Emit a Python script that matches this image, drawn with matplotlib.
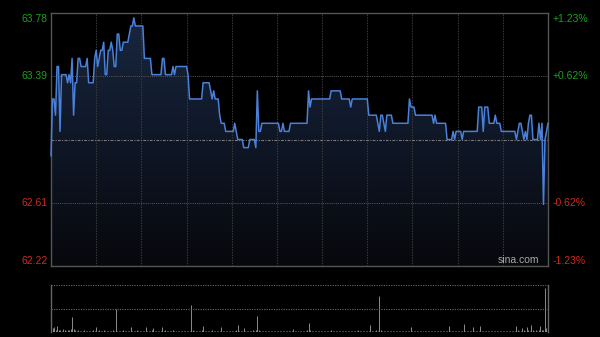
import numpy as np
import matplotlib
matplotlib.use('Agg')
import matplotlib.pyplot as plt
from matplotlib.patches import Polygon
from matplotlib.colors import LinearSegmentedColormap

plt.rcParams['font.family'] = ['Liberation Sans', 'DejaVu Sans']

PREV_CLOSE = 63.00
Y_MIN, Y_MAX = 62.22, 63.78
N_MIN = 330  # 11 half-hour blocks, one point per minute

# intraday price, stored as runs (price, number of minutes at that price)
run_prices = [
    62.90, 63.25, 63.15, 63.45, 63.05, 63.40, 63.35, 63.40, 63.35, 63.50,
    63.15, 63.35, 63.50, 63.45, 63.50, 63.35, 63.50, 63.55, 63.45, 63.50,
    63.55, 63.60, 63.40, 63.55, 63.60, 63.55, 63.45, 63.65, 63.55, 63.60,
    63.65, 63.70, 63.75, 63.70, 63.50, 63.40, 63.50, 63.40, 63.45, 63.40,
    63.45, 63.40, 63.25, 63.35, 63.30, 63.25, 63.30, 63.25, 63.15, 63.10,
    63.05, 63.10, 63.05, 63.00, 62.95, 63.00, 62.95, 63.30, 63.05, 63.10,
    63.05, 63.10, 63.05, 63.10, 63.30, 63.20, 63.25, 63.30, 63.25, 63.20,
    63.25, 63.15, 63.10, 63.05, 63.15, 63.10, 63.05, 63.15, 63.10, 63.25,
    63.20, 63.15, 63.10, 63.15, 63.10, 63.00, 63.05, 63.00, 63.05, 63.00,
    63.05, 63.20, 63.05, 63.20, 63.10, 63.15, 63.10, 63.05, 63.00, 63.05,
    63.10, 63.05, 63.00, 63.05, 63.00, 63.10, 63.15, 63.00, 63.10, 63.00,
    63.10, 62.60, 63.00, 63.05, 63.10,
]
run_lengths = [
    1, 2, 1, 2, 1, 4, 1, 1, 1, 1,
    1, 2, 2, 4, 1, 4, 1, 1, 1, 1,
    2, 1, 2, 2, 1, 1, 2, 2, 2, 4,
    1, 2, 1, 6, 5, 7, 2, 5, 1, 1,
    8, 1, 9, 5, 1, 1, 1, 3, 1, 3,
    6, 1, 1, 4, 4, 4, 1, 1, 2, 12,
    2, 1, 4, 12, 1, 1, 13, 7, 6, 1,
    11, 6, 1, 1, 2, 1, 1, 4, 11, 1,
    3, 12, 1, 1, 7, 4, 1, 1, 4, 1,
    10, 3, 1, 3, 4, 1, 3, 10, 1, 1,
    2, 1, 1, 1, 1, 1, 2, 4, 1, 1,
    1, 1, 1, 1, 1,
]

# per-minute volume (relative, 100 = top of the volume panel)
volume = [
    6, 8, 10, 5, 13, 4, 5, 3, 6, 4, 3, 5, 4, 6, 32, 7, 4, 3, 4, 3, 2, 3, 4, 3, 2, 3, 2, 3, 4, 3,
    10, 3, 4, 2, 3, 4, 3, 2, 3, 2, 3, 4, 3, 49, 3, 2, 3, 2, 4, 3, 2, 3, 2, 10, 3, 2, 3, 4, 2, 3,
    3, 2, 3, 10, 3, 2, 3, 4, 8, 3, 2, 3, 2, 3, 10, 3, 4, 2, 3, 2, 3, 4, 2, 3, 2, 3, 2, 2, 3, 2,
    3, 2, 3, 57, 4, 3, 2, 3, 2, 3, 4, 12, 3, 2, 3, 2, 3, 4, 2, 3, 2, 3, 2, 10, 3, 2, 3, 2, 3, 2,
    3, 2, 3, 4, 14, 3, 2, 3, 8, 3, 2, 3, 2, 3, 4, 3, 5, 34, 4, 3, 2, 3, 2, 3, 2, 3, 2, 3, 2, 3,
    2, 3, 2, 3, 2, 3, 2, 2, 3, 2, 3, 6, 2, 3, 2, 3, 2, 3, 2, 3, 4, 19, 5, 3, 2, 3, 2, 3, 2, 3,
    2, 3, 2, 3, 2, 3, 4, 2, 3, 2, 3, 2, 3, 2, 3, 2, 2, 3, 2, 3, 2, 3, 2, 3, 4, 2, 3, 2, 3, 2,
    3, 2, 15, 3, 2, 3, 4, 3, 77, 4, 3, 2, 3, 2, 3, 2, 3, 2, 3, 2, 3, 2, 3, 2, 3, 2, 3, 2, 3, 11,
    3, 2, 3, 2, 3, 2, 3, 2, 2, 3, 2, 3, 2, 3, 2, 3, 2, 2, 3, 2, 3, 2, 3, 2, 12, 3, 2, 3, 2, 3,
    2, 3, 2, 3, 17, 3, 2, 3, 2, 3, 10, 3, 2, 3, 2, 13, 3, 2, 3, 2, 3, 2, 3, 2, 3, 2, 3, 2, 3, 2,
    3, 2, 3, 2, 3, 2, 3, 2, 3, 12, 4, 3, 3, 9, 4, 3, 10, 4, 3, 14, 5, 3, 4, 3, 5, 12, 4, 5, 94, 8,
    20,
]

left_labels = ['63.78', '63.39', '62.61', '62.22']
right_labels = ['+1.23%', '+0.62%', '-0.62%', '-1.23%']
label_prices = [63.78, 63.39, 62.61, 62.22]

prices = np.repeat(run_prices, run_lengths)
minutes = np.arange(len(prices))
vol_minutes = np.arange(len(volume))

W, H = 600, 337
BG = '#000000'
GREEN = '#1f9e22'
RED = '#cf2a1c'
LINE = '#4a80d8'

fig = plt.figure(figsize=(W / 100, H / 100), dpi=100, facecolor=BG)

def px_box(x0, y0, x1, y1):
    return [x0 / W, 1 - y1 / H, (x1 - x0) / W, (y1 - y0) / H]

# ---- price panel ----
ax = fig.add_axes(px_box(51, 13, 548, 266))
ax.set_facecolor(BG)
ax.set_xlim(0, N_MIN)
ax.set_ylim(Y_MIN, Y_MAX)

# gradient fill under the line
poly = np.vstack([[0, Y_MIN], np.column_stack([minutes, prices]), [minutes[-1], Y_MIN]])
clip = Polygon(poly, closed=True, facecolor='none', edgecolor='none')
ax.add_patch(clip)
cmap = LinearSegmentedColormap.from_list('fill', ['#07080c', '#0f1727', '#19273f'])
grad = np.linspace(1, 0, 256).reshape(-1, 1)
im = ax.imshow(grad, extent=[0, N_MIN, Y_MIN, Y_MAX], aspect='auto', cmap=cmap,
               origin='upper', zorder=1)
im.set_clip_path(clip)

# grid
for t in range(30, N_MIN, 30):
    ax.axvline(t, color='#3c3c3c', lw=0.8, ls=(0, (1.2, 1.2)), zorder=2)
for p in [63.39, 62.61]:
    ax.axhline(p, color='#5a5a5a', lw=0.7, ls=(0, (1, 1.2)), zorder=2)
ax.axhline(PREV_CLOSE, color='#7a7a7a', lw=0.8, ls=(0, (2.5, 1.2, 1, 1.2)), zorder=2)

for s in ax.spines.values():
    s.set_color('#555555')
    s.set_linewidth(1.0)

ax.plot(minutes, prices, color=LINE, lw=1.1, zorder=3, clip_on=False)

ax.set_xticks([])
ax.set_yticks([])

ax.text(0.982, 0.004, 'sina.com', transform=ax.transAxes, ha='right', va='bottom',
        color='#a8a8a8', fontsize=7.5, zorder=4)

# axis labels around the price panel
def py(p):
    return 13 + (Y_MAX - p) / (Y_MAX - Y_MIN) * (266 - 13)

for i, (p, lt, rt) in enumerate(zip(label_prices, left_labels, right_labels)):
    col = GREEN if p > PREV_CLOSE else RED
    if i == 0:
        va, yy = 'top', py(p) + 1
    elif i == len(label_prices) - 1:
        va, yy = 'bottom', py(p) - 0.5
    else:
        va, yy = 'center', py(p)
    fig.text(48 / W, 1 - yy / H, lt, ha='right', va=va, color=col, fontsize=7.5)
    fig.text(553 / W, 1 - yy / H, rt, ha='left', va=va, color=col, fontsize=7.5)

# ---- volume panel ----
axv = fig.add_axes(px_box(51, 285, 548, 332))
axv.set_facecolor(BG)
axv.set_xlim(0, N_MIN)
axv.set_ylim(0, 100)
axv.vlines(vol_minutes, 0, volume, color='#8c8c8c', lw=0.7)
axv.axhline(100, color='#6a6a6a', lw=0.8, ls=(0, (1, 1.2)))
axv.axhline(50, color='#6a6a6a', lw=0.8, ls=(0, (1, 1.2)))
for side in ['top', 'bottom']:
    axv.spines[side].set_visible(False)
for side in ['left', 'right']:
    axv.spines[side].set_color('#666666')
    axv.spines[side].set_linewidth(1.0)
axv.set_xticks([])
axv.set_yticks([])

fig.savefig('out.png', dpi=100, facecolor=BG)
